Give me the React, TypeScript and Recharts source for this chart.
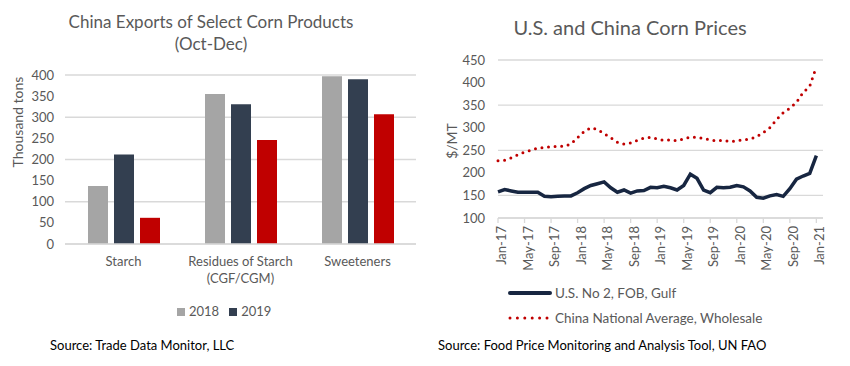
import React from 'react';
import {
  BarChart, Bar, LineChart, Line, XAxis, YAxis, CartesianGrid, Legend, Label,
} from 'recharts';

// Left panel: China exports of select corn products (Oct-Dec), thousand tons
const categories = ['Starch', 'Residues of Starch\n(CGF/CGM)', 'Sweeteners'];
const exports2018 = [137, 355, 397];
const exports2019 = [212, 331, 390];
const exports2020 = [62, 246, 307];
const barTicks = [0, 50, 100, 150, 200, 250, 300, 350, 400];

// Right panel: monthly corn prices, $/MT, Jan-17 .. Jan-21
const monthLabels = [
  'Jan-17', 'Feb-17', 'Mar-17', 'Apr-17', 'May-17', 'Jun-17', 'Jul-17', 'Aug-17', 'Sep-17', 'Oct-17', 'Nov-17', 'Dec-17',
  'Jan-18', 'Feb-18', 'Mar-18', 'Apr-18', 'May-18', 'Jun-18', 'Jul-18', 'Aug-18', 'Sep-18', 'Oct-18', 'Nov-18', 'Dec-18',
  'Jan-19', 'Feb-19', 'Mar-19', 'Apr-19', 'May-19', 'Jun-19', 'Jul-19', 'Aug-19', 'Sep-19', 'Oct-19', 'Nov-19', 'Dec-19',
  'Jan-20', 'Feb-20', 'Mar-20', 'Apr-20', 'May-20', 'Jun-20', 'Jul-20', 'Aug-20', 'Sep-20', 'Oct-20', 'Nov-20', 'Dec-20',
  'Jan-21',
];
const usGulf = [
  158, 163, 160, 157, 157, 157, 157, 148, 147, 148, 149, 149,
  156, 165, 172, 176, 180, 167, 157, 162, 155, 160, 161, 168,
  167, 170, 167, 162, 172, 197, 188, 162, 156, 168, 167, 168,
  172, 169, 160, 146, 144, 149, 152, 148, 165, 186, 193, 199,
  238,
];
const chinaWholesale = [
  227, 228, 233, 240, 246, 250, 255, 256, 258, 259, 259, 264,
  278, 292, 300, 296, 287, 278, 268, 264, 266, 272, 277, 279,
  275, 272, 273, 271, 275, 279, 279, 276, 273, 271, 272, 269,
  271, 273, 275, 280, 289, 300, 318, 333, 343, 356, 378, 392,
  435,
];
const priceTicks = [100, 150, 200, 250, 300, 350, 400, 450];
const monthTicks = [0, 4, 8, 12, 16, 20, 24, 28, 32, 36, 40, 44, 48];
const legendOrder = ['us', 'china'];

const barData = categories.map((name, i) => ({
  name,
  y2018: exports2018[i],
  y2019: exports2019[i],
  y2020: exports2020[i],
}));

const priceData = monthLabels.map((label, i) => ({
  idx: i,
  label,
  us: usGulf[i],
  china: chinaWholesale[i],
}));

const TEXT = '#595959';
const GRID = '#d9d9d9';

const CategoryTick = ({ x, y, payload }: any) => {
  const lines = String(payload.value).split('\n');
  return (
    <text x={x} y={y} textAnchor="middle" fill={TEXT} fontSize={13}>
      {lines.map((l, i) => (
        <tspan key={i} x={x} dy={i === 0 ? '0.71em' : 17}>{l}</tspan>
      ))}
    </text>
  );
};

const MonthTick = ({ x, y, payload }: any) => (
  <text
    x={x}
    y={y}
    transform={`rotate(-90, ${x}, ${y})`}
    textAnchor="end"
    dy={8}
    fill={TEXT}
    fontSize={13}
  >
    {monthLabels[payload.value]}
  </text>
);

const PriceLegend = ({ payload }: any) => {
  const items = [...(payload || [])].sort(
    (a: any, b: any) => legendOrder.indexOf(a.dataKey) - legendOrder.indexOf(b.dataKey)
  );
  return (
    <div>
      {items.map((p: any) => {
        const dotted = p.dataKey === 'china';
        return (
          <div key={p.value} style={{ display: 'flex', alignItems: 'center', height: 25 }}>
            <svg width={44} height={8} style={{ marginRight: 3 }}>
              <line
                x1={2}
                y1={4}
                x2={dotted ? 40 : 42}
                y2={4}
                stroke={p.color}
                strokeWidth={dotted ? 3 : 4}
                strokeLinecap="round"
                strokeDasharray={dotted ? '0 7.4' : undefined}
              />
            </svg>
            <span style={{ color: TEXT, fontSize: 13.5 }}>{p.value}</span>
          </div>
        );
      })}
    </div>
  );
};

export default function App() {
  return (
    <div
      style={{
        position: 'absolute',
        left: 0,
        top: 0,
        width: 850,
        height: 366,
        background: '#fff',
        fontFamily: 'Lato, "Open Sans", sans-serif',
        overflow: 'hidden',
      }}
    >
      {/* left panel */}
      <div style={{ position: 'absolute', left: 0, top: 11, width: 422, textAlign: 'center', color: TEXT, fontSize: 17, lineHeight: '22px' }}>
        China Exports of Select Corn Products
        <br />
        (Oct-Dec)
      </div>
      <div style={{ position: 'absolute', left: 0, top: 0 }}>
        <BarChart
          width={425}
          height={366}
          data={barData}
          margin={{ top: 75, right: 9, left: 0, bottom: 82 }}
          barSize={20}
          barGap={6}
        >
          <CartesianGrid vertical={false} stroke={GRID} strokeWidth={1.3} />
          <XAxis
            dataKey="name"
            axisLine={{ stroke: GRID, strokeWidth: 1.3 }}
            tickLine={false}
            tickMargin={7}
            height={40}
            interval={0}
            tick={<CategoryTick />}
          />
          <YAxis
            width={65}
            domain={[0, 400]}
            ticks={barTicks}
            axisLine={false}
            tickLine={false}
            tickMargin={5}
            tick={{ fill: TEXT, fontSize: 13 }}
          >
            <Label
              content={() => (
                <text
                  x={18}
                  y={122}
                  transform="rotate(-90, 18, 122)"
                  textAnchor="middle"
                  dy={5}
                  fill={TEXT}
                  fontSize={14}
                >
                  Thousand tons
                </text>
              )}
            />
          </YAxis>
          <Legend
            layout="horizontal"
            align="center"
            verticalAlign="middle"
            iconType="square"
            iconSize={8}
            wrapperStyle={{ top: 300, left: 177, width: 'auto' }}
            formatter={(v: string) => <span style={{ color: TEXT, fontSize: 13 }}>{v}</span>}
          />
          <Bar dataKey="y2018" name="2018" fill="#a5a5a5" isAnimationActive={false} />
          <Bar dataKey="y2019" name="2019" fill="#333f50" isAnimationActive={false} />
          <Bar dataKey="y2020" name="2020" fill="#c00000" legendType="none" isAnimationActive={false} />
        </BarChart>
      </div>
      <div style={{ position: 'absolute', left: 50, top: 337, fontSize: 13, color: '#000' }}>
        Source: Trade Data Monitor, LLC
      </div>

      {/* right panel */}
      <div style={{ position: 'absolute', left: 425, top: 15, width: 410, textAlign: 'center', color: TEXT, fontSize: 20 }}>
        U.S. and China Corn Prices
      </div>
      <div style={{ position: 'absolute', left: 425, top: 0 }}>
        <LineChart
          width={425}
          height={366}
          data={priceData}
          margin={{ top: 60, right: 27, left: 0, bottom: 98 }}
        >
          <CartesianGrid vertical={false} stroke={GRID} strokeWidth={1.3} />
          <XAxis
            dataKey="idx"
            type="number"
            domain={[0, 49]}
            ticks={monthTicks}
            interval={0}
            axisLine={{ stroke: GRID, strokeWidth: 1.3 }}
            tickLine={{ stroke: GRID, strokeWidth: 1.3 }}
            tickSize={5}
            tickMargin={3}
            height={50}
            tick={<MonthTick />}
          />
          <YAxis
            width={73}
            domain={[100, 450]}
            ticks={priceTicks}
            axisLine={false}
            tickLine={false}
            tickMargin={7}
            tick={{ fill: TEXT, fontSize: 13 }}
          >
            <Label
              content={() => (
                <text
                  x={27}
                  y={141}
                  transform="rotate(-90, 27, 141)"
                  textAnchor="middle"
                  dy={5}
                  fill={TEXT}
                  fontSize={14}
                >
                  $/MT
                </text>
              )}
            />
          </YAxis>
          <Legend
            layout="vertical"
            align="center"
            verticalAlign="middle"
            wrapperStyle={{ top: 280, left: 83, width: 'auto' }}
            content={<PriceLegend />}
          />
          <Line
            dataKey="us"
            name="U.S. No 2, FOB, Gulf"
            stroke="#172641"
            strokeWidth={3.5}
            dot={false}
            isAnimationActive={false}
          />
          <Line
            dataKey="china"
            name="China National Average, Wholesale"
            stroke="#c00000"
            strokeWidth={3}
            strokeDasharray="0 6.6"
            strokeLinecap="round"
            dot={false}
            isAnimationActive={false}
          />
        </LineChart>
      </div>
      <div style={{ position: 'absolute', left: 438, top: 337, fontSize: 13, color: '#000' }}>
        Source: Food Price Monitoring and Analysis Tool, UN FAO
      </div>
    </div>
  );
}
